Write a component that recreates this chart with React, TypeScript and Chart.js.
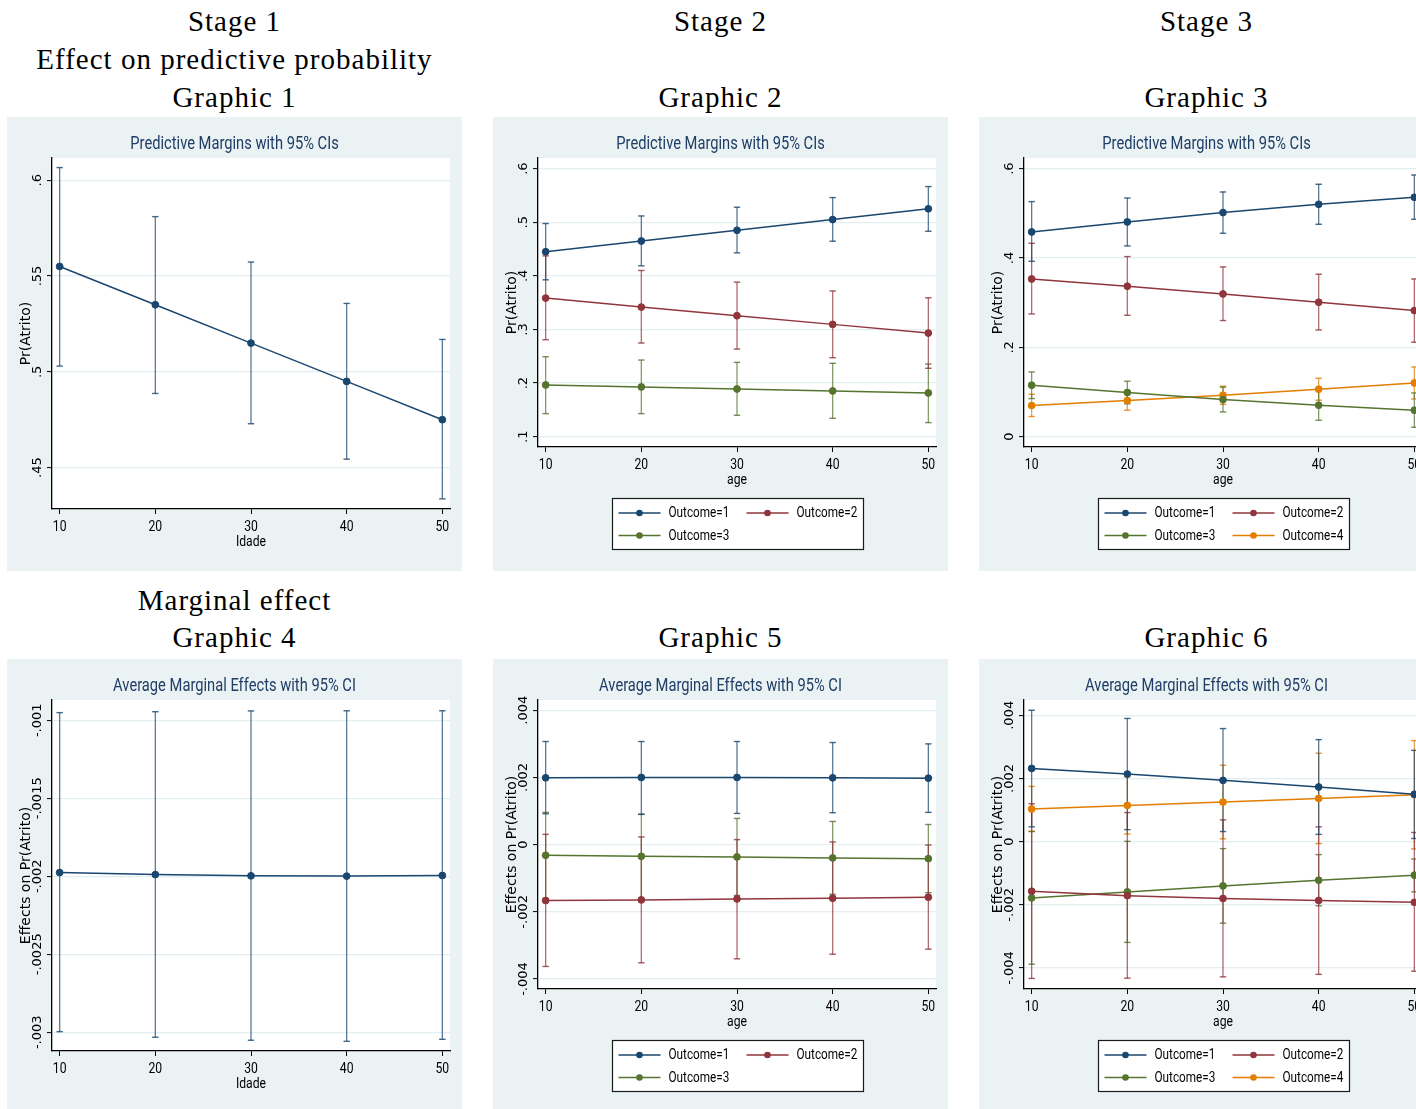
import React, { useEffect, useRef } from 'react';
import { Chart, registerables } from 'chart.js';

Chart.register(...registerables);

// ---------------- data ----------------
const ages = [10, 20, 30, 40, 50];
const xTickValues = [10, 20, 30, 40, 50];

// Graphic 1 – predictive margins (single outcome)
const g1Margin = [0.555, 0.535, 0.515, 0.495, 0.475];
const g1Lower = [0.503, 0.4887, 0.4729, 0.4544, 0.4337];
const g1Upper = [0.6066, 0.581, 0.5573, 0.5357, 0.5169];
const g1YTicks = [0.45, 0.5, 0.55, 0.6];
const g1YLabels = ['.45', '.5', '.55', '.6'];

// Graphic 2 – predictive margins, 3 outcomes
const g2Out1 = [0.445, 0.465, 0.485, 0.505, 0.525];
const g2Out1Lo = [0.3926, 0.4187, 0.4429, 0.4646, 0.4832];
const g2Out1Hi = [0.4976, 0.5117, 0.528, 0.546, 0.5665];
const g2Out2 = [0.3585, 0.3417, 0.3256, 0.3095, 0.2933];
const g2Out2Lo = [0.2809, 0.2747, 0.2635, 0.2473, 0.2276];
const g2Out2Hi = [0.4373, 0.41, 0.3883, 0.3718, 0.359];
const g2Out3 = [0.1965, 0.1928, 0.189, 0.1853, 0.1816];
const g2Out3Lo = [0.143, 0.143, 0.14, 0.1344, 0.1263];
const g2Out3Hi = [0.2492, 0.243, 0.2387, 0.2369, 0.2356];
const g2YTicks = [0.1, 0.2, 0.3, 0.4, 0.5, 0.6];
const g2YLabels = ['.1', '.2', '.3', '.4', '.5', '.6'];

// Graphic 3 – predictive margins, 4 outcomes
const g3Out1 = [0.4582, 0.4806, 0.5016, 0.5201, 0.5358];
const g3Out1Lo = [0.3926, 0.4269, 0.4553, 0.4754, 0.4866];
const g3Out1Hi = [0.5262, 0.5342, 0.5477, 0.5649, 0.5857];
const g3Out2 = [0.353, 0.3367, 0.3195, 0.3009, 0.2823];
const g3Out2Lo = [0.2747, 0.2718, 0.26, 0.2389, 0.2114];
const g3Out2Hi = [0.4329, 0.4031, 0.3799, 0.3636, 0.353];
const g3Out3 = [0.1152, 0.0989, 0.0832, 0.0705, 0.0593];
const g3Out3Lo = [0.0854, 0.0736, 0.0555, 0.0369, 0.0212];
const g3Out3Hi = [0.145, 0.1242, 0.1109, 0.1041, 0.098];
const g3Out4 = [0.0698, 0.081, 0.0928, 0.1063, 0.1204];
const g3Out4Lo = [0.0452, 0.0593, 0.0727, 0.0817, 0.0846];
const g3Out4Hi = [0.095, 0.1027, 0.113, 0.1309, 0.1561];
const g3YTicks = [0, 0.2, 0.4, 0.6];
const g3YLabels = ['0', '.2', '.4', '.6'];

// Graphic 4 – average marginal effects (single outcome)
const g4Effect = [-0.001976, -0.001989, -0.001997, -0.001999, -0.001995];
const g4Lower = [-0.002996, -0.003032, -0.003051, -0.003058, -0.003045];
const g4Upper = [-0.000951, -0.000945, -0.00094, -0.000939, -0.000939];
const g4YTicks = [-0.003, -0.0025, -0.002, -0.0015, -0.001];
const g4YLabels = ['-.003', '-.0025', '-.002', '-.0015', '-.001'];

// Graphic 5 – average marginal effects, 3 outcomes
const g5Out1 = [0.00199, 0.002, 0.002, 0.00199, 0.00198];
const g5Out1Lo = [0.00092, 0.0009, 0.00093, 0.00095, 0.00096];
const g5Out1Hi = [0.00307, 0.00307, 0.00307, 0.00304, 0.003];
const g5Out2 = [-0.001664, -0.001644, -0.001615, -0.001595, -0.001565];
const g5Out2Lo = [-0.003626, -0.003517, -0.003398, -0.00326, -0.003111];
const g5Out2Hi = [0.000307, 0.00023, 0.00015, 0.00008, -0.00001];
const g5Out3 = [-0.000317, -0.000347, -0.000366, -0.000396, -0.000416];
const g5Out3Lo = [-0.0016, -0.0016, -0.00151, -0.00148, -0.00143];
const g5Out3Hi = [0.00096, 0.00091, 0.00078, 0.00069, 0.0006];
const g5YTicks = [-0.004, -0.002, 0, 0.002, 0.004];
const g5YLabels = ['-.004', '-.002', '0', '.002', '.004'];

// Graphic 6 – average marginal effects, 4 outcomes
const g6Out1 = [0.002317, 0.00214, 0.00194, 0.00173, 0.0015];
const g6Out1Lo = [0.00047, 0.00038, 0.00032, 0.00023, 0.0001];
const g6Out1Hi = [0.00416, 0.0039, 0.00358, 0.00323, 0.00289];
const g6Out2 = [-0.00157, -0.00171, -0.0018, -0.00186, -0.00192];
const g6Out2Lo = [-0.00433, -0.00432, -0.00428, -0.0042, -0.0041];
const g6Out2Hi = [0.0012, 0.00092, 0.00069, 0.00047, 0.00029];
const g6Out3 = [-0.00178, -0.00159, -0.0014, -0.00122, -0.00106];
const g6Out3Lo = [-0.00388, -0.00319, -0.00258, -0.00203, -0.00159];
const g6Out3Hi = [0.00032, 0.00001, -0.00022, -0.00041, -0.00055];
const g6Out4 = [0.001033, 0.001148, 0.001253, 0.001369, 0.001485];
const g6Out4Lo = [0.00033, 0.00024, 0.00009, -0.00006, -0.00023];
const g6Out4Hi = [0.00175, 0.00205, 0.00242, 0.0028, 0.0032];
const g6YTicks = [-0.004, -0.002, 0, 0.002, 0.004];
const g6YLabels = ['-.004', '-.002', '0', '.002', '.004'];

const outcomeLabels = ['Outcome=1', 'Outcome=2', 'Outcome=3', 'Outcome=4'];

// ---------------- styles ----------------
const NAVY = '#1a476f';
const MAROON = '#90353b';
const GREEN = '#55752f';
const ORANGE = '#e37e00';
const CI_ALPHA = 0.72;
const PANEL_BG = '#eaf2f3';
const GRID = '#e4eef0';
const TITLE_COLOR = '#1f3d66';
const NARROW = 'Roboto, sans-serif';
const NARROW_SCALE = 0.84;
const YFONT = "'DejaVu Sans', Verdana, sans-serif";
const YTICK_SIZE = 13;
const PW = 455;
const PH = 454;

function hexA(hex: string, a: number) {
  const n = parseInt(hex.slice(1), 16);
  return `rgba(${(n >> 16) & 255},${(n >> 8) & 255},${n & 255},${a})`;
}

type Series = { label: string; color: string; mid: number[]; lo: number[]; hi: number[] };
type PanelCfg = {
  title: string;
  xTitle: string;
  yTitle: string;
  yMin: number;
  yMax: number;
  yTicks: number[];
  yLabels: string[];
  series: Series[];
  legend: boolean;
};

// Stata's narrow sans font: render the narrow-family text horizontally condensed
const condense = {
  id: 'condense',
  beforeInit(chart: any) {
    const ctx = chart.ctx;
    const orig = ctx.fillText;
    ctx.fillText = function (text: string, x: number, y: number, maxWidth?: number) {
      const f = String(this.font || '');
      if (f.indexOf('Roboto') >= 0) {
        this.save();
        this.translate(x, y);
        this.scale(NARROW_SCALE, 1);
        if (maxWidth === undefined) orig.call(this, text, 0, 0);
        else orig.call(this, text, 0, 0, maxWidth / NARROW_SCALE);
        this.restore();
      } else if (maxWidth === undefined) {
        orig.call(this, text, x, y);
      } else {
        orig.call(this, text, x, y, maxWidth);
      }
    };
  },
};

const whiteArea = {
  id: 'whiteArea',
  beforeDraw(chart: any) {
    const { ctx, chartArea: a } = chart;
    ctx.save();
    ctx.fillStyle = '#ffffff';
    ctx.fillRect(a.left, a.top, a.right - a.left, a.bottom - a.top);
    ctx.restore();
  },
};

const stataLegend = {
  id: 'stataLegend',
  afterDraw(chart: any, _args: any, opts: any) {
    if (!opts || !opts.items || !opts.items.length) return;
    const { ctx, chartArea: a } = chart;
    const w = 251;
    const h = 51;
    const cx = (a.left + a.right) / 2;
    const left = Math.round(cx - w / 2) + 0.5;
    const top = Math.round(a.bottom + 51) + 0.5;
    ctx.save();
    ctx.fillStyle = '#ffffff';
    ctx.fillRect(left, top, w, h);
    ctx.strokeStyle = '#1a1a1a';
    ctx.lineWidth = 1.2;
    ctx.strokeRect(left, top, w, h);
    ctx.font = `14px ${NARROW}`;
    ctx.textBaseline = 'middle';
    ctx.textAlign = 'left';
    opts.items.forEach((it: any, i: number) => {
      const col = i % 2;
      const row = Math.floor(i / 2);
      const x0 = left + 6 + col * 128;
      const y = top + 14.5 + row * 22.5;
      ctx.strokeStyle = it.color;
      ctx.lineWidth = 1.4;
      ctx.beginPath();
      ctx.moveTo(x0, y);
      ctx.lineTo(x0 + 42, y);
      ctx.stroke();
      ctx.fillStyle = it.color;
      ctx.beginPath();
      ctx.arc(x0 + 21, y, 3.3, 0, Math.PI * 2);
      ctx.fill();
      ctx.fillStyle = '#000';
      ctx.fillText(it.label, x0 + 50, y + 0.5);
    });
    ctx.restore();
  },
};

function buildConfig(cfg: PanelCfg, yPad: number): any {
  const mains: any[] = [];
  const cis: any[] = [];
  cfg.series.forEach((s) => {
    mains.push({
      type: 'line',
      label: s.label,
      data: ages.map((a, i) => ({ x: a, y: s.mid[i] })),
      borderColor: s.color,
      borderWidth: 1.5,
      pointRadius: 3.4,
      pointBackgroundColor: s.color,
      pointBorderColor: s.color,
      pointBorderWidth: 1,
      tension: 0,
    });
    cis.push({
      type: 'line',
      label: s.label + ' CI',
      data: ages.flatMap((a, i) => [
        { x: a, y: s.lo[i] },
        { x: a, y: s.hi[i] },
        { x: a, y: null },
      ]),
      borderColor: hexA(s.color, CI_ALPHA),
      borderWidth: 1.3,
      pointRadius: 0,
      spanGaps: false,
    });
    cis.push({
      type: 'line',
      label: s.label + ' caps',
      data: ages.flatMap((a, i) => [
        { x: a, y: s.lo[i] },
        { x: a, y: s.hi[i] },
      ]),
      showLine: false,
      pointStyle: 'line',
      pointRadius: 3.2,
      pointBorderWidth: 1.4,
      pointBorderColor: hexA(s.color, CI_ALPHA + 0.1),
      pointBackgroundColor: hexA(s.color, CI_ALPHA),
    });
  });

  const xAxisHeight = cfg.legend ? PH - 330 : PH - 392;
  const xTitlePadBottom = cfg.legend ? 82 : 20;

  return {
    type: 'line',
    data: { datasets: [...mains, ...cis] },
    plugins: [condense, whiteArea, stataLegend],
    options: {
      animation: false,
      responsive: false,
      events: [],
      layout: { padding: { left: 12, right: 12, top: 0, bottom: 0 } },
      plugins: {
        legend: { display: false },
        tooltip: { enabled: false },
        title: {
          display: true,
          text: cfg.title,
          color: TITLE_COLOR,
          font: { family: NARROW, size: 17.5, weight: 'normal' },
          padding: { top: 17.5, bottom: 2.5 },
        },
        stataLegend: {
          items: cfg.legend
            ? cfg.series.map((s) => ({ label: s.label, color: s.color }))
            : [],
        },
      },
      scales: {
        x: {
          type: 'linear',
          min: 9.2,
          max: 50.8,
          afterBuildTicks: (s: any) => {
            s.ticks = xTickValues.map((v) => ({ value: v }));
          },
          afterFit: (s: any) => {
            s.height = xAxisHeight;
          },
          grid: {
            drawOnChartArea: false,
            drawTicks: true,
            tickLength: 5,
            tickColor: '#000',
            tickWidth: 1,
          },
          border: { display: true, color: '#000', width: 1.3 },
          ticks: {
            font: { family: NARROW, size: 14.5 },
            color: '#000',
            padding: 4.5,
            maxRotation: 0,
            autoSkip: false,
            callback: (v: any) => String(v),
          },
          title: {
            display: true,
            text: cfg.xTitle,
            color: '#000',
            font: { family: NARROW, size: 14.5 },
            padding: { top: 0, bottom: xTitlePadBottom },
          },
        },
        y: {
          type: 'linear',
          min: cfg.yMin,
          max: cfg.yMax,
          afterBuildTicks: (s: any) => {
            s.ticks = cfg.yTicks.map((v) => ({ value: v }));
          },
          afterFit: (s: any) => {
            s.width = 33;
          },
          grid: {
            color: GRID,
            lineWidth: 1.2,
            drawTicks: true,
            tickLength: 5,
            tickColor: '#000',
            tickWidth: 1,
          },
          border: { display: true, color: '#000', width: 1.3 },
          ticks: {
            font: { family: YFONT, size: YTICK_SIZE },
            color: '#000',
            minRotation: 90,
            maxRotation: 90,
            crossAlign: 'center',
            padding: yPad,
            autoSkip: false,
            callback: (_v: any, i: number) => cfg.yLabels[i],
          },
          title: {
            display: true,
            text: cfg.yTitle,
            color: '#000',
            font: { family: YFONT, size: 14, lineHeight: 1.0 },
            padding: { top: 0.7, bottom: 0 },
          },
        },
      },
    },
  };
}

const panels: { left: number; top: number; cfg: PanelCfg }[] = [
  {
    left: 7,
    top: 117,
    cfg: {
      title: 'Predictive Margins with 95% CIs',
      xTitle: 'Idade',
      yTitle: 'Pr(Atrito)',
      yMin: 0.4284,
      yMax: 0.6116,
      yTicks: g1YTicks,
      yLabels: g1YLabels,
      legend: false,
      series: [{ label: 'Margin', color: NAVY, mid: g1Margin, lo: g1Lower, hi: g1Upper }],
    },
  },
  {
    left: 493,
    top: 117,
    cfg: {
      title: 'Predictive Margins with 95% CIs',
      xTitle: 'age',
      yTitle: 'Pr(Atrito)',
      yMin: 0.0808,
      yMax: 0.6198,
      yTicks: g2YTicks,
      yLabels: g2YLabels,
      legend: true,
      series: [
        { label: outcomeLabels[0], color: NAVY, mid: g2Out1, lo: g2Out1Lo, hi: g2Out1Hi },
        { label: outcomeLabels[1], color: MAROON, mid: g2Out2, lo: g2Out2Lo, hi: g2Out2Hi },
        { label: outcomeLabels[2], color: GREEN, mid: g2Out3, lo: g2Out3Lo, hi: g2Out3Hi },
      ],
    },
  },
  {
    left: 979,
    top: 117,
    cfg: {
      title: 'Predictive Margins with 95% CIs',
      xTitle: 'age',
      yTitle: 'Pr(Atrito)',
      yMin: -0.023,
      yMax: 0.6237,
      yTicks: g3YTicks,
      yLabels: g3YLabels,
      legend: true,
      series: [
        { label: outcomeLabels[0], color: NAVY, mid: g3Out1, lo: g3Out1Lo, hi: g3Out1Hi },
        { label: outcomeLabels[1], color: MAROON, mid: g3Out2, lo: g3Out2Lo, hi: g3Out2Hi },
        { label: outcomeLabels[2], color: GREEN, mid: g3Out3, lo: g3Out3Lo, hi: g3Out3Hi },
        { label: outcomeLabels[3], color: ORANGE, mid: g3Out4, lo: g3Out4Lo, hi: g3Out4Hi },
      ],
    },
  },
  {
    left: 7,
    top: 659,
    cfg: {
      title: 'Average Marginal Effects with 95% CI',
      xTitle: 'Idade',
      yTitle: 'Effects on Pr(Atrito)',
      yMin: -0.00312,
      yMax: -0.00087,
      yTicks: g4YTicks,
      yLabels: g4YLabels,
      legend: false,
      series: [{ label: 'Effect', color: NAVY, mid: g4Effect, lo: g4Lower, hi: g4Upper }],
    },
  },
  {
    left: 493,
    top: 659,
    cfg: {
      title: 'Average Marginal Effects with 95% CI',
      xTitle: 'age',
      yTitle: 'Effects on Pr(Atrito)',
      yMin: -0.004297,
      yMax: 0.004306,
      yTicks: g5YTicks,
      yLabels: g5YLabels,
      legend: true,
      series: [
        { label: outcomeLabels[0], color: NAVY, mid: g5Out1, lo: g5Out1Lo, hi: g5Out1Hi },
        { label: outcomeLabels[1], color: MAROON, mid: g5Out2, lo: g5Out2Lo, hi: g5Out2Hi },
        { label: outcomeLabels[2], color: GREEN, mid: g5Out3, lo: g5Out3Lo, hi: g5Out3Hi },
      ],
    },
  },
  {
    left: 979,
    top: 659,
    cfg: {
      title: 'Average Marginal Effects with 95% CI',
      xTitle: 'age',
      yTitle: 'Effects on Pr(Atrito)',
      yMin: -0.004664,
      yMax: 0.004484,
      yTicks: g6YTicks,
      yLabels: g6YLabels,
      legend: true,
      series: [
        { label: outcomeLabels[0], color: NAVY, mid: g6Out1, lo: g6Out1Lo, hi: g6Out1Hi },
        { label: outcomeLabels[1], color: MAROON, mid: g6Out2, lo: g6Out2Lo, hi: g6Out2Hi },
        { label: outcomeLabels[2], color: GREEN, mid: g6Out3, lo: g6Out3Lo, hi: g6Out3Hi },
        { label: outcomeLabels[3], color: ORANGE, mid: g6Out4, lo: g6Out4Lo, hi: g6Out4Hi },
      ],
    },
  },
];

const headerLines: { col: number; baseline: number; text: string }[] = [
  { col: 0, baseline: 30.7, text: 'Stage 1' },
  { col: 0, baseline: 68.7, text: 'Effect on predictive probability' },
  { col: 0, baseline: 106.7, text: 'Graphic 1' },
  { col: 1, baseline: 30.7, text: 'Stage 2' },
  { col: 1, baseline: 106.7, text: 'Graphic 2' },
  { col: 2, baseline: 30.7, text: 'Stage 3' },
  { col: 2, baseline: 106.7, text: 'Graphic 3' },
  { col: 0, baseline: 609.7, text: 'Marginal effect' },
  { col: 0, baseline: 646.7, text: 'Graphic 4' },
  { col: 1, baseline: 646.7, text: 'Graphic 5' },
  { col: 2, baseline: 646.7, text: 'Graphic 6' },
];
const colLefts = [7, 493, 979];

function Panel({ left, top, cfg }: { left: number; top: number; cfg: PanelCfg }) {
  const ref = useRef<HTMLCanvasElement>(null);
  useEffect(() => {
    const m = document.createElement('canvas').getContext('2d')!;
    m.font = `${YTICK_SIZE}px ${YFONT}`;
    const widest = Math.max(...cfg.yLabels.map((l) => m.measureText(l).width));
    const yPad = 14 - 5 - widest / 2;
    const chart = new Chart(ref.current!, buildConfig(cfg, yPad));
    return () => chart.destroy();
  }, []);
  return (
    <div
      style={{ position: 'absolute', left, top, width: PW, height: PH, background: PANEL_BG }}
    >
      <canvas ref={ref} width={PW} height={PH} style={{ display: 'block' }} />
    </div>
  );
}

export default function App() {
  return (
    <div
      style={{
        position: 'absolute',
        left: 0,
        top: 0,
        width: 1416,
        height: 1109,
        overflow: 'hidden',
        background: '#ffffff',
      }}
    >
      {headerLines.map((h, i) => (
        <div
          key={i}
          style={{
            position: 'absolute',
            left: colLefts[h.col],
            top: h.baseline - 28.8,
            width: PW,
            textAlign: 'center',
            fontFamily: "'Liberation Serif', serif",
            fontSize: 29,
            lineHeight: '38px',
            letterSpacing: '1px',
            color: '#000',
            whiteSpace: 'nowrap',
          }}
        >
          {h.text}
        </div>
      ))}
      {panels.map((p, i) => (
        <Panel key={i} left={p.left} top={p.top} cfg={p.cfg} />
      ))}
    </div>
  );
}
